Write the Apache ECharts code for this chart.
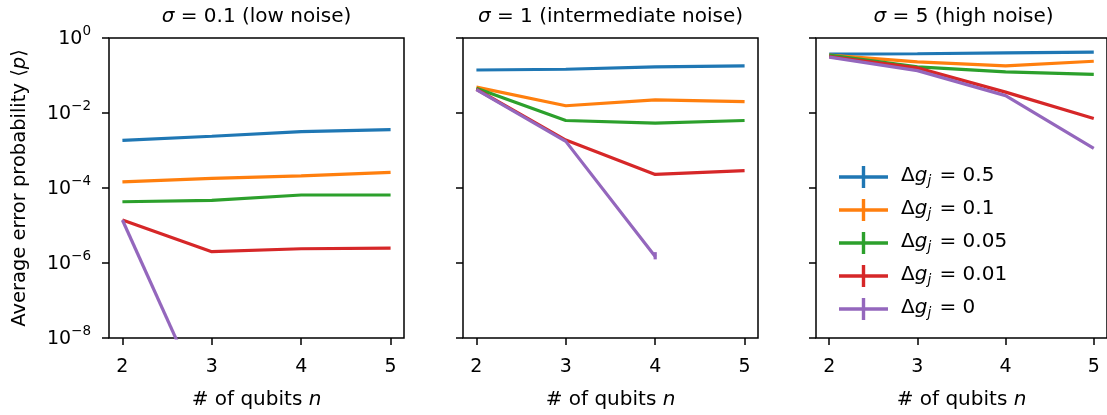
<!DOCTYPE html>
<html>
<head>
<meta charset="utf-8">
<script src="https://cdn.jsdelivr.net/npm/echarts@6/dist/echarts.min.js"></script>
<style>
  html, body { margin: 0; padding: 0; background: #fff; }
  #main { width: 1107px; height: 415px; }
</style>
</head>
<body>
<div id="main"></div>
<script>
// number of qubits on the x axis
var nQubits = [2, 3, 4, 5];
// legend values of Delta g_j, same order as the rows below
var dgValues = ['0.5', '0.1', '0.05', '0.01', '0'];
var lineColors = ['#1f77b4', '#ff7f0e', '#2ca02c', '#d62728', '#9467bd'];
var yTicks = [1e-8, 1e-6, 1e-4, 1e-2, 1];

// sigma = 0.1 (low noise)
var sigmaLow = [
    [1.86e-3, 2.4e-3, 3.2e-3, 3.6e-3],
    [1.45e-4, 1.8e-4, 2.1e-4, 2.6e-4],
    [4.3e-5, 4.7e-5, 6.5e-5, 6.5e-5],
    [1.4e-5, 2.0e-6, 2.4e-6, 2.5e-6],
    [1.4e-5, 7.4e-11, null, null]
];
// sigma = 1 (intermediate noise)
var sigmaMid = [
    [0.14, 0.147, 0.17, 0.18],
    [0.049, 0.0156, 0.0224, 0.020],
    [0.046, 0.0063, 0.0054, 0.0063],
    [0.043, 0.0019, 2.3e-4, 2.9e-4],
    [0.042, 1.75e-3, 1.5e-6, null]
];
// sigma = 5 (high noise)
var sigmaHigh = [
    [0.37, 0.38, 0.40, 0.42],
    [0.35, 0.23, 0.18, 0.24],
    [0.35, 0.17, 0.125, 0.107],
    [0.32, 0.16, 0.036, 0.0071],
    [0.31, 0.135, 0.029, 0.00114]
];
// visible error bar: [panel, row, n, low, high]
var errBars = [
    [1, 4, 4, 1.25e-6, 1.95e-6]
];

var panelTitles = [
    ['0.1', 'low noise'],
    ['1', 'intermediate noise'],
    ['5', 'high noise']
];
var panels = [sigmaLow, sigmaMid, sigmaHigh];
var gridLeft = [109, 463, 816];
var gridWidth = 295;

var font = 'DejaVu Sans';
var supRich = {
    b: { fontSize: 19, fontFamily: font, color: '#000', lineHeight: 22, verticalAlign: 'bottom' },
    e: { fontSize: 13.5, fontFamily: font, color: '#000', lineHeight: 14, padding: [0, 0, 11, 0], verticalAlign: 'bottom' }
};

var grids = [], xAxes = [], yAxes = [], series = [], graphics = [];

panels.forEach(function (rows, p) {
    grids.push({
        left: gridLeft[p], top: 38, width: gridWidth, height: 301,
        show: true, borderColor: '#000', borderWidth: 1.5, backgroundColor: 'transparent'
    });
    xAxes.push({
        gridIndex: p, type: 'value', min: 1.85, max: 5.15,
        name: '{a|# of qubits }{i|n}', nameLocation: 'middle', nameGap: 52,
        nameTextStyle: {
            rich: {
                a: { fontSize: 20, fontFamily: font, color: '#000' },
                i: { fontSize: 20, fontFamily: font, color: '#000', fontStyle: 'italic' }
            }
        },
        splitLine: { show: false },
        axisLine: { show: false },
        axisTick: { show: true, length: 7, customValues: nQubits, lineStyle: { color: '#000', width: 1.5 } },
        axisLabel: { customValues: nQubits, margin: 20, fontSize: 19, fontFamily: font, color: '#000' }
    });
    yAxes.push({
        gridIndex: p, type: 'log', logBase: 10, min: 1e-8, max: 1,
        name: p === 0 ? 'Average error probability ⟨{i|p}⟩' : '',
        nameLocation: 'middle', nameRotate: 90, nameGap: 79,
        nameTextStyle: {
            fontSize: 19.5, fontFamily: font, color: '#000',
            rich: { i: { fontSize: 19.5, fontFamily: font, color: '#000', fontStyle: 'italic' } }
        },
        splitLine: { show: false },
        minorTick: { show: false },
        axisLine: { show: false },
        axisTick: { show: true, length: 7, customValues: yTicks, lineStyle: { color: '#000', width: 1.5 } },
        axisLabel: {
            show: p === 0, customValues: yTicks, margin: 18,
            formatter: function (v) {
                var e = Math.round(Math.log10(v));
                return '{b|10}{e|' + (e < 0 ? '\u2212' + (-e) : e) + '}';
            },
            rich: supRich
        }
    });
    rows.forEach(function (vals, k) {
        series.push({
            name: dgValues[k], type: 'line', xAxisIndex: p, yAxisIndex: p,
            data: nQubits.map(function (n, i) { return [n, vals[i]]; }),
            symbol: 'none', showSymbol: false, connectNulls: false,
            color: lineColors[k],
            lineStyle: { width: 3.2, color: lineColors[k] },
            clip: true, z: 3
        });
    });
    graphics.push({
        type: 'text', x: gridLeft[p] + gridWidth / 2, y: 17,
        style: {
            text: '{i|\u03c3}{t| = ' + panelTitles[p][0] + ' (' + panelTitles[p][1] + ')}',
            align: 'center', verticalAlign: 'middle',
            rich: {
                i: { fontSize: 20, fontFamily: font, fill: '#000', fontStyle: 'italic' },
                t: { fontSize: 20, fontFamily: font, fill: '#000' }
            }
        }
    });
});

errBars.forEach(function (eb) {
    series.push({
        name: dgValues[eb[1]], type: 'custom', xAxisIndex: eb[0], yAxisIndex: eb[0],
        data: [[eb[2], eb[3], eb[4]]],
        encode: { x: 0, y: [1, 2] },
        z: 4,
        renderItem: function (params, api) {
            var lo = api.coord([api.value(0), api.value(1)]);
            var hi = api.coord([api.value(0), api.value(2)]);
            return {
                type: 'line',
                shape: { x1: lo[0], y1: lo[1], x2: hi[0], y2: hi[1] },
                style: { stroke: lineColors[eb[1]], lineWidth: 3.2 }
            };
        }
    });
});

var option = {
    animation: false,
    backgroundColor: '#fff',
    grid: grids,
    xAxis: xAxes,
    yAxis: yAxes,
    legend: {
        data: dgValues,
        orient: 'vertical',
        left: 834, top: 159,
        itemWidth: 49, itemHeight: 22, itemGap: 9,
        icon: 'path://M0,9.3H49V12.7H0Z M22.8,0H26.2V22H22.8Z',
        itemStyle: { borderWidth: 0 },
        textStyle: {
            padding: [0, 0, 0, 8],
            rich: {
                d: { fontSize: 20, fontFamily: font, color: '#000', lineHeight: 22, padding: [0, 0, 2, 0], verticalAlign: 'bottom' },
                g: { fontSize: 20, fontFamily: font, color: '#000', fontStyle: 'italic', lineHeight: 22, padding: [0, 0, 2, 0], verticalAlign: 'bottom' },
                j: { fontSize: 13.5, fontFamily: font, color: '#000', fontStyle: 'italic', lineHeight: 13, padding: [10, 2, 0, 0], verticalAlign: 'bottom' },
                t: { fontSize: 20, fontFamily: font, color: '#000', lineHeight: 22, padding: [0, 0, 2, 0], verticalAlign: 'bottom' }
            }
        },
        formatter: function (name) {
            return '{d|\u0394}{g|g}{j|j}{t| = ' + name + '}';
        }
    },
    graphic: graphics,
    series: series
};

var myChart = echarts.init(document.getElementById('main'));
myChart.setOption(option);
</script>
</body>
</html>
